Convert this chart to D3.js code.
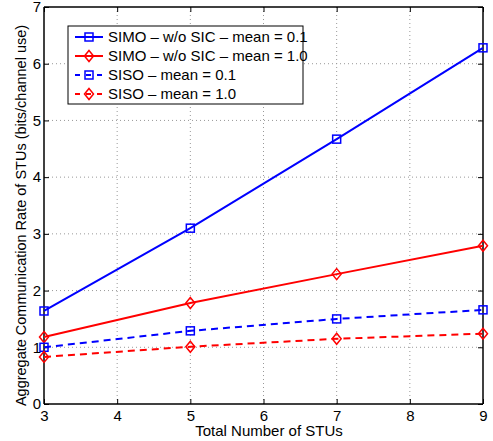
<!DOCTYPE html>
<html><head><meta charset="utf-8">
<script src="https://cdn.jsdelivr.net/npm/d3@7"></script>
<style>body{margin:0;background:#fff}svg{display:block}text{font-family:"Liberation Sans",Arial,sans-serif}</style>
</head><body><svg id="c" width="493" height="441"></svg>
<script>
const xValues = [3, 5, 7, 9];
const simo01 = [1.64, 3.10, 4.67, 6.28];
const simo10 = [1.18, 1.78, 2.29, 2.79];
const siso01 = [1.00, 1.29, 1.50, 1.66];
const siso10 = [0.83, 1.01, 1.15, 1.24];
const xTicks = [3, 4, 5, 6, 7, 8, 9];
const yTicks = [0, 1, 2, 3, 4, 5, 6, 7];
const seriesNames = ["SIMO \u2013 w/o SIC \u2013 mean = 0.1", "SIMO \u2013 w/o SIC \u2013 mean = 1.0", "SISO \u2013 mean = 0.1", "SISO \u2013 mean = 1.0"];

const series = [
  {name: seriesNames[0], vals: simo01, color: "#0000ff", dash: null, marker: "square"},
  {name: seriesNames[1], vals: simo10, color: "#ff0000", dash: null, marker: "diamond"},
  {name: seriesNames[2], vals: siso01, color: "#0000ff", dash: "7,5", marker: "square"},
  {name: seriesNames[3], vals: siso10, color: "#ff0000", dash: "7,5", marker: "diamond"}
];

const svg = d3.select("#c");
const L = 44, R = 483, T = 7, B = 404;
const x = d3.scaleLinear().domain([3, 9]).range([L, R]);
const y = d3.scaleLinear().domain([0, 7]).range([B, T]);

// grid
const g = svg.append("g");
g.selectAll(".gx").data(xTicks.slice(1, -1)).enter().append("line")
  .attr("x1", d => x(d)).attr("x2", d => x(d)).attr("y1", T).attr("y2", B)
  .attr("stroke", "#999").attr("stroke-width", 1).attr("stroke-dasharray", "1,3");
g.selectAll(".gy").data(yTicks.slice(1, -1)).enter().append("line")
  .attr("y1", d => y(d)).attr("y2", d => y(d)).attr("x1", L).attr("x2", R)
  .attr("stroke", "#999").attr("stroke-width", 1).attr("stroke-dasharray", "1,3");

// axes
const xb = d3.axisBottom(x).tickValues(xTicks).tickSize(-5).tickPadding(6).tickFormat(d3.format("d"));
const xt = d3.axisTop(x).tickValues(xTicks).tickSize(-5).tickFormat("");
const yl = d3.axisLeft(y).tickValues(yTicks).tickSize(-5).tickPadding(3).tickFormat(d3.format("d"));
const yr = d3.axisRight(y).tickValues(yTicks).tickSize(-5).tickFormat("");
function style(sel){ sel.selectAll("path").attr("stroke","#000").attr("stroke-width",1.5); sel.selectAll("line").attr("stroke","#000"); sel.selectAll("text").attr("font-size","15px").attr("fill","#000").attr("font-family","Liberation Sans, Arial, sans-serif"); }
svg.append("g").attr("transform", `translate(0,${B})`).call(xb).call(style).call(s=>s.select(".domain").attr("d",`M${L},0H${R}`));
svg.append("g").attr("transform", `translate(0,${T})`).call(xt).call(style).call(s=>s.select(".domain").attr("d",`M${L},0H${R}`));
svg.append("g").attr("transform", `translate(${L},0)`).call(yl).call(style).call(s=>s.select(".domain").attr("d",`M0,${T}V${B}`));
svg.append("g").attr("transform", `translate(${R},0)`).call(yr).call(style).call(s=>s.select(".domain").attr("d",`M0,${T}V${B}`));

// lines
const line = d3.line().x((d, i) => x(xValues[i])).y(d => y(d));
function drawMarker(sel, type, color, cx, cy) {
  if (type === "square") {
    sel.append("rect").attr("x", cx - 4).attr("y", cy - 4).attr("width", 8).attr("height", 8)
      .attr("fill", "none").attr("stroke", color).attr("stroke-width", 1.5);
  } else {
    sel.append("path").attr("d", `M${cx},${cy-5.5}L${cx+4.5},${cy}L${cx},${cy+5.5}L${cx-4.5},${cy}Z`)
      .attr("fill", "none").attr("stroke", color).attr("stroke-width", 1.5);
  }
}
series.forEach(s => {
  svg.append("path").attr("d", line(s.vals)).attr("fill", "none").attr("stroke", s.color)
    .attr("stroke-width", 2).attr("stroke-dasharray", s.dash);
  const mg = svg.append("g");
  s.vals.forEach((v, i) => drawMarker(mg, s.marker, s.color, x(xValues[i]), y(v)));
});

// legend
const lg = svg.append("g");
lg.append("rect").attr("x", 68).attr("y", 26).attr("width", 235).attr("height", 78)
  .attr("fill", "#fff").attr("stroke", "#000").attr("stroke-width", 1);
series.forEach((s, i) => {
  const yy = 37 + i * 19;
  lg.append("line").attr("x1", 75).attr("x2", 103).attr("y1", yy).attr("y2", yy)
    .attr("stroke", s.color).attr("stroke-width", 2).attr("stroke-dasharray", s.dash ? "5,6" : null);
  drawMarker(lg, s.marker, s.color, 89, yy);
  lg.append("text").attr("x", 108).attr("y", yy + 5).attr("font-size", "15px").text(s.name);
});

// axis labels
svg.append("text").attr("x", 269).attr("y", 436).attr("text-anchor", "middle").attr("font-size", "15px").text("Total Number of STUs");
svg.append("text").attr("transform", `translate(26,${(T + B) / 2 + 10}) rotate(-90)`).attr("text-anchor", "middle").attr("font-size", "14.5px").text("Aggregate Communication Rate of STUs (bits/channel use)");
</script></body></html>
